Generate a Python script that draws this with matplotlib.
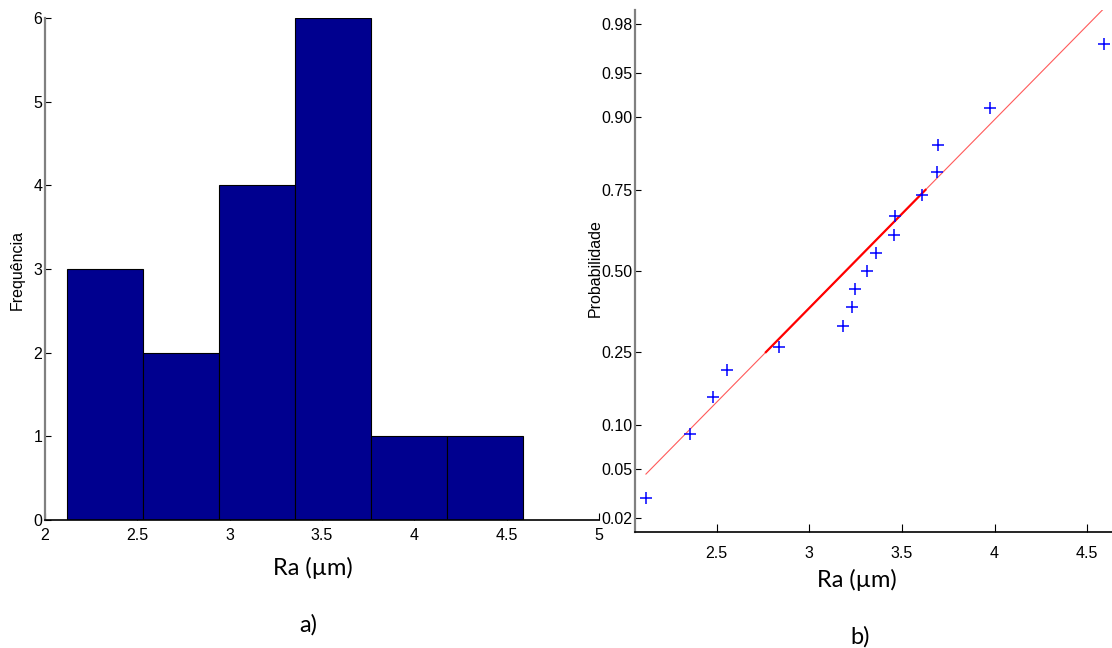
import matplotlib
matplotlib.use('Agg')
import matplotlib.pyplot as plt
import numpy as np
from statistics import NormalDist

# Ra values (um), sorted
ra = [2.118, 2.356, 2.482, 2.554, 2.836, 3.183, 3.228, 3.246, 3.312,
      3.362, 3.456, 3.463, 3.606, 3.690, 3.697, 3.974, 4.588]
n_bins = 6
hist_xticks = [2, 2.5, 3, 3.5, 4, 4.5, 5]
hist_yticks = [0, 1, 2, 3, 4, 5, 6]
prob_ticks = [0.02, 0.05, 0.10, 0.25, 0.50, 0.75, 0.90, 0.95, 0.98]
prob_labels = ['0.02', '0.05', '0.10', '0.25', '0.50', '0.75', '0.90', '0.95', '0.98']
norm_xticks = [2.5, 3, 3.5, 4, 4.5]

plt.rcParams['font.family'] = ['Liberation Sans', 'DejaVu Sans']
ppf = NormalDist().inv_cdf

fig = plt.figure(figsize=(11.12, 6.48), dpi=100)

# ---- a) histogram
ax1 = fig.add_axes([45 / 1112, 128 / 648, 554 / 1112, 502 / 648])
ax1.set_axisbelow(True)
ax1.hist(ra, bins=n_bins, color='#00008f', edgecolor='black', linewidth=0.8)
ax1.set_xlim(2, 5)
ax1.set_ylim(0, 6)
ax1.set_xticks(hist_xticks)
ax1.set_xticklabels(['2', '2.5', '3', '3.5', '4', '4.5', '5'])
ax1.set_yticks(hist_yticks)
ax1.spines['top'].set_visible(False)
ax1.spines['right'].set_visible(False)
ax1.spines['left'].set_color('#808080')
ax1.spines['left'].set_linewidth(1.6)
ax1.spines['bottom'].set_linewidth(1.2)
ax1.tick_params(axis='x', direction='in', length=5, width=0.8, pad=6, labelsize=11.5)
ax1.tick_params(axis='y', direction='in', length=4, width=0.8, pad=2, labelsize=11.5)
fig.text(17 / 1112, 1 - 270 / 648, 'Frequência', rotation=90, ha='center',
         va='center', fontsize=11.5)

# ---- b) normal probability plot
ax2 = fig.add_axes([635 / 1112, 116 / 648, 480 / 1112, 522 / 648])
ax2.set_axisbelow(True)
x = np.array(ra)
npts = len(x)
z = np.array([ppf((i - 0.5) / npts) for i in range(1, npts + 1)])
q1, q3 = np.percentile(x, [25, 75], method='hazen')
zq1, zq3 = ppf(0.25), ppf(0.75)
slope = (zq3 - zq1) / (q3 - q1)
xl = np.array([x.min(), x.max()])
ax2.plot(xl, zq1 + slope * (xl - q1), color='#ff5a5a', lw=0.8)
xq = np.array([q1, q3])
ax2.plot(xq, zq1 + slope * (xq - q1), color='#ff0000', lw=1.6)
ax2.plot(x, z, '+', color='#0000ff', markersize=8, markeredgewidth=1.1)
ax2.set_xlim(2.059, 4.65)
ax2.set_ylim(-2.17, 2.17)
ax2.set_xticks(norm_xticks)
ax2.set_xticklabels(['2.5', '3', '3.5', '4', '4.5'])
ax2.set_yticks([ppf(p) for p in prob_ticks])
ax2.set_yticklabels(prob_labels)
ax2.spines['top'].set_visible(False)
ax2.spines['right'].set_visible(False)
ax2.spines['left'].set_color('#808080')
ax2.spines['left'].set_linewidth(1.6)
ax2.spines['bottom'].set_linewidth(1.2)
ax2.tick_params(axis='x', direction='in', length=6, width=0.8, pad=10, labelsize=11.5)
ax2.tick_params(axis='y', direction='in', length=4, width=0.8, pad=2, labelsize=11.5)
fig.text(595 / 1112, 1 - 268 / 648, 'Probabilidade', rotation=90, ha='center',
         va='center', fontsize=11.5)

# ---- x labels and panel letters
for cx, cy, s in [(313, 568, 'Ra (µm)'), (857, 580, 'Ra (µm)'),
                  (308, 625, 'a)'), (860, 637, 'b)')]:
    fig.text(cx / 1112, 1 - cy / 648, s, ha='center', va='center',
             fontsize=17, family=['Lato', 'DejaVu Sans'])

fig.savefig('out.png', dpi=100)
